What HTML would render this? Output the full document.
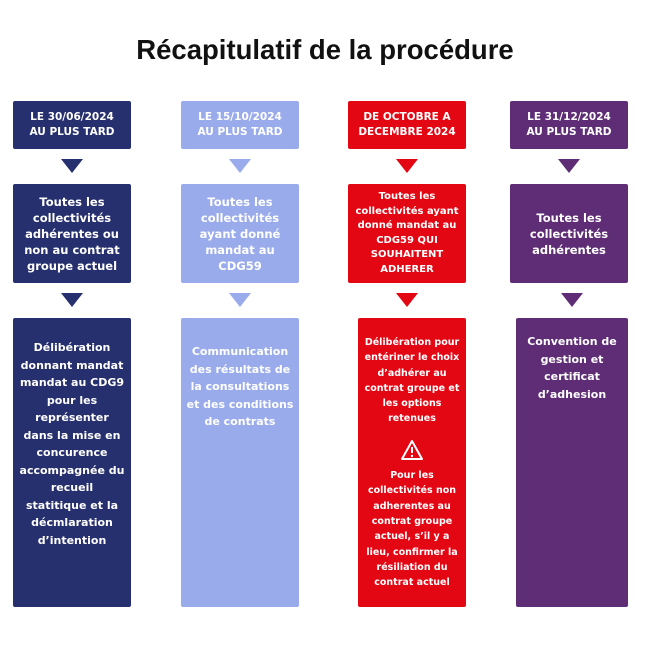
<!DOCTYPE html>
<html><head><meta charset="utf-8"><style>
body{margin:0;width:650px;height:650px;background:#fff;position:relative;font-family:"DejaVu Sans","Liberation Sans",sans-serif;overflow:hidden}
.t{position:absolute;left:0;width:650px;top:34px;text-align:center;font-size:27.5px;font-weight:bold;color:#111;font-family:"Liberation Sans",sans-serif}
.b{position:absolute;color:#fff;font-weight:bold;text-align:center;box-sizing:border-box;border-radius:2px}
.h{height:48px;font-size:10.5px;line-height:15px;display:flex;align-items:center;justify-content:center}
.m{height:99px;font-size:11.5px;line-height:16px;display:flex;align-items:center;justify-content:center;padding:0 6px}
.l{top:318px;height:289px;font-size:11px;line-height:17.5px;padding:24px 6px 0}
.tri{position:absolute;width:0;height:0;border-left:11px solid transparent;border-right:11px solid transparent;border-top:14px solid}
.c1{background:#27306f}.c2{background:#9aabeb}.c3{background:#e30613}.c4{background:#5f2d75}
</style></head><body>
<div class="t">Récapitulatif de la procédure</div>

<div class="b h c1" style="left:13px;top:101px;width:118px">LE 30/06/2024<br>AU PLUS TARD</div>
<div class="b h c2" style="left:181px;top:101px;width:118px">LE 15/10/2024<br>AU PLUS TARD</div>
<div class="b h c3" style="left:348px;top:101px;width:118px">DE OCTOBRE A<br>DECEMBRE 2024</div>
<div class="b h c4" style="left:510px;top:101px;width:118px">LE 31/12/2024<br>AU PLUS TARD</div>

<div class="tri" style="left:61px;top:159px;border-top-color:#27306f"></div>
<div class="tri" style="left:229px;top:159px;border-top-color:#9aabeb"></div>
<div class="tri" style="left:396px;top:159px;border-top-color:#e30613"></div>
<div class="tri" style="left:558px;top:159px;border-top-color:#5f2d75"></div>

<div class="b m c1" style="left:13px;top:184px;width:118px">Toutes les collectivités adhérentes ou non au contrat groupe actuel</div>
<div class="b m c2" style="left:181px;top:184px;width:118px">Toutes les collectivités ayant donné mandat au CDG59</div>
<div class="b m c3" style="left:348px;top:184px;width:118px;font-size:10px;line-height:14.5px">Toutes les collectivités ayant donné mandat au CDG59 QUI SOUHAITENT ADHERER</div>
<div class="b m c4" style="left:510px;top:184px;width:118px">Toutes les collectivités adhérentes</div>

<div class="tri" style="left:61px;top:293px;border-top-color:#27306f"></div>
<div class="tri" style="left:229px;top:293px;border-top-color:#9aabeb"></div>
<div class="tri" style="left:396px;top:293px;border-top-color:#e30613"></div>
<div class="tri" style="left:561px;top:293px;border-top-color:#5f2d75"></div>

<div class="b l c1" style="left:13px;width:118px;padding-top:21px">Délibération donnant mandat mandat au CDG9 pour les représenter dans la mise en concurence accompagnée du recueil statitique et la décmlaration d’intention</div>
<div class="b l c2" style="left:181px;width:118px;padding:25px 3px 0">Communication des résultats de la consultations et des conditions de contrats</div>
<div class="b l c3" style="left:358px;width:108px;font-size:9.5px;line-height:15.3px;padding:17px 4px 0">Délibération pour entériner le choix d’adhérer au contrat groupe et les options retenues<br>
<svg width="24" height="22" viewBox="0 0 24 22" style="margin:12px 0 2px"><path d="M12 2 L22 20 L2 20 Z" fill="none" stroke="#fff" stroke-width="2" stroke-linejoin="round"/><path d="M12 8 V14" stroke="#fff" stroke-width="2"/><circle cx="12" cy="17" r="1.2" fill="#fff"/></svg><br>Pour les collectivités non adherentes au contrat groupe actuel, s’il y a lieu, confirmer la résiliation du contrat actuel</div>
<div class="b l c4" style="left:516px;width:112px;padding-top:15px">Convention de gestion et certificat d’adhesion</div>
</body></html>
